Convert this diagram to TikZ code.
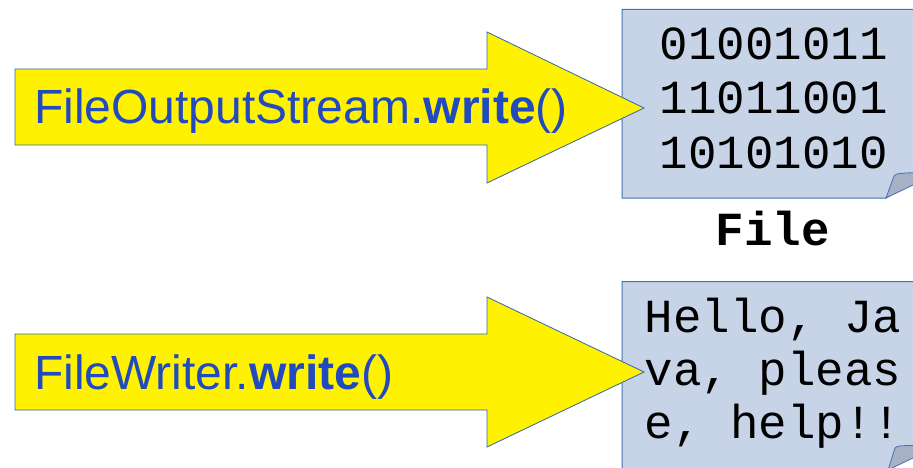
\documentclass[tikz,border=0pt]{standalone}
\usepackage{fontspec}
\setmainfont{Liberation Sans}
\newfontfamily\codefont{Liberation Mono}

\definecolor{callblue}{RGB}{33,74,190}
\definecolor{arrowline}{RGB}{52,101,164}
\definecolor{sheetfill}{RGB}{199,212,232}
\definecolor{sheetline}{RGB}{70,114,176}
\definecolor{foldfill}{RGB}{166,176,198}

\tikzset{
  bigarrow/.style = {fill=yellow, draw=arrowline, line width=0.8pt, line join=miter},
  sheet/.style = {fill=sheetfill, draw=sheetline, line width=1pt},
  fold/.style = {fill=foldfill, draw=sheetline, line width=0.8pt},
  calltext/.style = {anchor=base west, inner sep=0pt, text=callblue,
    font=\fontsize{48}{54}\selectfont},
  filetext/.style = {anchor=base, inner sep=0pt,
    font=\codefont\fontsize{47.5}{54}\selectfont},
}

\begin{document}
\begin{tikzpicture}[x=1pt, y=-1pt]
      \useasboundingbox (0,0) rectangle (913,468);

      % the two files, each with a dog-ear in the lower right corner
      \draw[sheet] (622,9.5) -- (940,9.5) -- (940,166) -- (886,198) -- (622,198) -- cycle;
      \draw[fold] (886,198) -- (894,176) .. controls (896,173) and (899,173) .. (940,172) -- cycle;

      \draw[sheet] (622,281.5) -- (940,281.5) -- (940,438) -- (888,470) -- (622,470) -- cycle;
      \draw[fold] (888,470) -- (895,448) .. controls (897,445.5) and (900,445.5) .. (940,445) -- cycle;

      % what ends up inside them
      \foreach \bits [count=\i] in {01001011, 11011001, 10101010}
        \node[filetext] (bin\i) at (774, 6 + 54*\i) {\bits};

      \node[filetext] (txt1) at (773,332) {Hello,~Ja};
      \node[filetext] (txt2) at (773,385) {va,~pleas};
      \node[filetext] (txt3) at (773,438) {e,~help!!};

      \node[filetext, font=\codefont\bfseries\fontsize{47.5}{54}\selectfont] (file) at (773,245) {File};

      % the write calls
      \draw[bigarrow] (15,69) -- (487,69) -- (487,32) -- (644,108) -- (487,183) -- (487,145) -- (15,145) -- cycle;
      \draw[bigarrow] (15,334) -- (487,334) -- (487,297) -- (644,372) -- (487,447) -- (487,410) -- (15,410) -- cycle;

      \node[calltext] (stream) at (34,124) {FileOutputStream.\textbf{write}()};
      \node[calltext] (writer) at (34,389) {FileWriter.\textbf{write}()};

\end{tikzpicture}
\end{document}
